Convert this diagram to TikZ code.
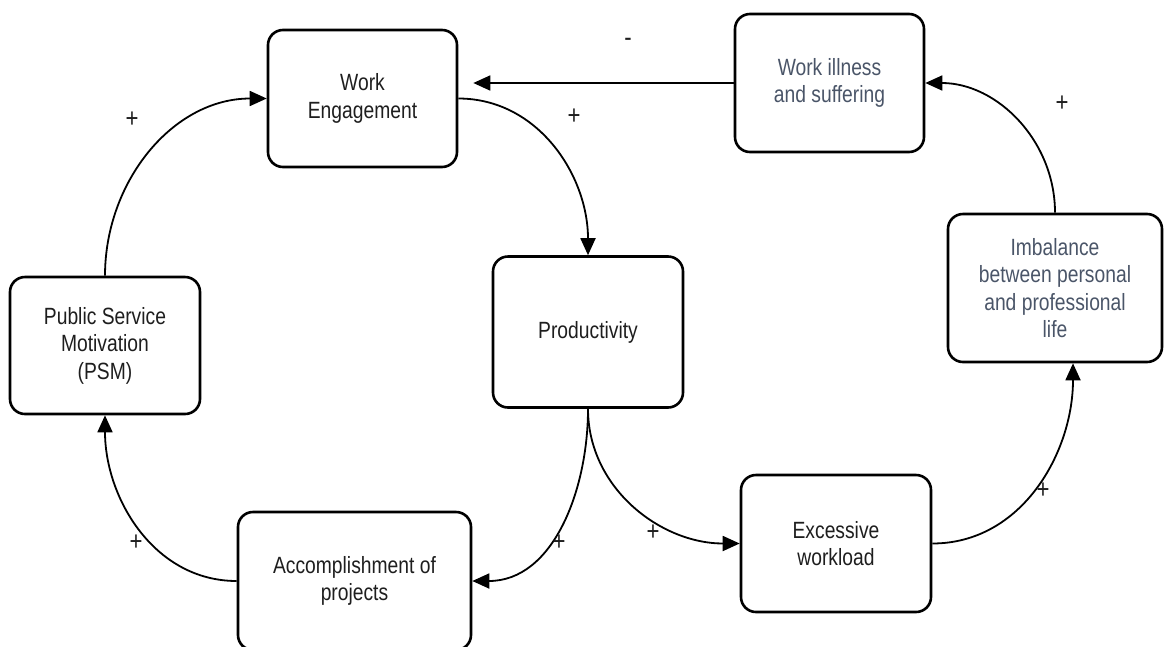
\documentclass[tikz,border=0pt]{standalone}
\usepackage{fontspec}
\setmainfont[FakeStretch=0.82]{Liberation Sans}
\usetikzlibrary{arrows.meta}
\definecolor{slate}{RGB}{74,85,104}
\definecolor{ink}{RGB}{30,30,30}

\begin{document}
\begin{tikzpicture}[x=1pt,y=-1pt,-{Triangle[length=17pt,width=15pt]},line width=1.8pt]
   \useasboundingbox (0,0) rectangle (1164,646);
   \fontsize{23.5}{27.5}\selectfont
   \tikzstyle{main}=[draw=black, line width=2.6pt, rounded corners=15pt, align=center, text=ink, inner sep=0pt, minimum width=189pt, minimum height=137pt]
   \tikzstyle{sign}=[inner sep=0pt, text=ink, font=\fontsize{27}{30}\selectfont]
   \node[main] (engagement) at (362.5,98.5) {Work\\Engagement};
   \node[main, text=slate, minimum height=138pt] (illness) at (829.5,83) {Work illness\\and suffering};
   \node[main, text=slate, minimum width=214pt, minimum height=148pt] (imbalance) at (1055,288) {Imbalance\\between personal\\and professional\\life};
   \node[main, minimum width=190pt, minimum height=151pt] (productivity) at (588,332) {Productivity};
   \node[main, minimum width=190pt] (psm) at (105,345.5) {Public Service\\Motivation\\(PSM)};
   \node[main, minimum width=233pt, minimum height=138pt] (projects) at (354.5,581) {Accomplishment of\\projects};
   \node[main, minimum width=190pt] (workload) at (836,543.5) {Excessive\\workload};
   \path (psm.north) edge[out=90, in=180] (engagement.west);
   \path (engagement.east) edge[out=0, in=90] (productivity.north);
   \path (illness.west) edge[shorten >=15pt] (illness.west -| engagement.east);
   \path (productivity.south) edge[out=-90, in=0] (projects.east);
   \path (productivity.south) edge[out=-90, in=180] (workload.west);
   \path (projects.west) edge[out=180, in=-90] (psm.south);
   \path (workload.east) edge[out=0, in=-90] ([xshift=18pt]imbalance.south);
   \path (imbalance.north) edge[out=90, in=0] (illness.east);
   \node[sign] (s1) at (132,120) {+};
   \node[sign] (s2) at (574,117) {+};
   \node[sign] (s3) at (628,42) {-};
   \node[sign] (s4) at (1062,104) {+};
   \node[sign] (s5) at (136,543) {+};
   \node[sign] (s6) at (559,543) {+};
   \node[sign] (s7) at (653,533) {+};
   \node[sign] (s8) at (1043,491) {+};
\end{tikzpicture}
\end{document}
